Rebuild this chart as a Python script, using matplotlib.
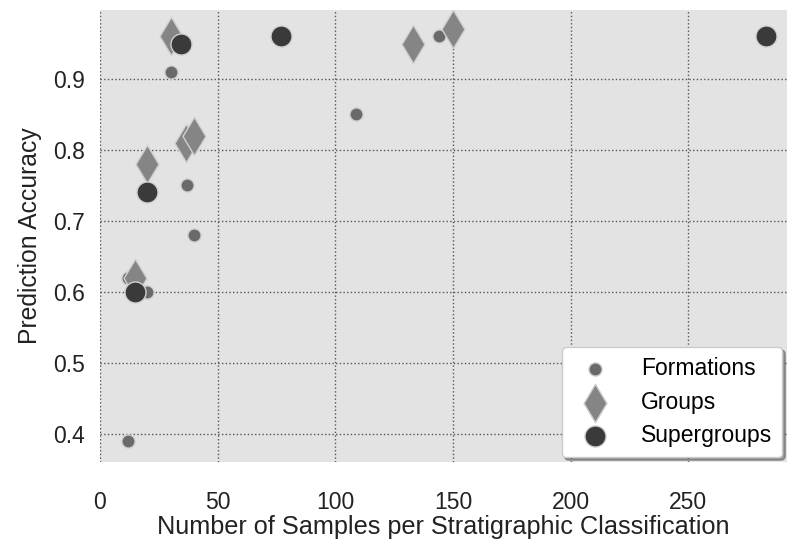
import matplotlib
matplotlib.use("Agg")
import matplotlib.pyplot as plt

# values
form_x = [12, 12, 20, 30, 37, 40, 109, 144]
form_y = [0.39, 0.62, 0.60, 0.91, 0.75, 0.68, 0.85, 0.96]
group_x = [30, 15, 20, 36.5, 40, 133, 150]
group_y = [0.96, 0.62, 0.78, 0.81, 0.82, 0.95, 0.97]
super_x = [15, 20, 34.5, 77, 283]
super_y = [0.60, 0.74, 0.95, 0.96, 0.96]

plt.rcParams["font.family"] = ["Liberation Sans", "DejaVu Sans"]

fig = plt.figure(figsize=(7.87, 5.39), dpi=100)
ax = fig.add_axes([0.127, 0.143, 0.873, 0.838])
ax.set_facecolor("#e3e3e3")

ax.scatter(form_x, form_y, s=90, marker="o", color="#6a6a6a",
           edgecolors="#d0d0d0", linewidths=1, label="Formations", zorder=3)
ax.scatter(group_x, group_y, s=380, marker="d", color="#858585",
           edgecolors="#d0d0d0", linewidths=1, label="Groups", zorder=3)
ax.scatter(super_x, super_y, s=230, marker="o", color="#3a3a3a",
           edgecolors="#d0d0d0", linewidths=1, label="Supergroups", zorder=3)

ax.set_xlim(0, 292)
ax.set_ylim(0.36, 0.997)
ax.set_xticks([0, 50, 100, 150, 200, 250])
ax.set_yticks([0.4, 0.5, 0.6, 0.7, 0.8, 0.9])
ax.grid(True, color="#555555", linestyle=":", linewidth=1)
ax.set_axisbelow(True)
for s in ax.spines.values():
    s.set_visible(False)
ax.tick_params(axis="both", length=0, labelsize=16.5, colors="#222222")
ax.tick_params(axis="x", pad=21)
ax.tick_params(axis="y", pad=11)

ax.set_xlabel("Number of Samples per Stratigraphic Classification",
              fontsize=18.2, color="#222222", labelpad=1)
ax.set_ylabel("Prediction Accuracy", fontsize=17.8, color="#222222",
              labelpad=8)

leg = ax.legend(loc="lower right", fontsize=16.5, frameon=True, shadow=True,
                fancybox=True, borderpad=0.45, labelspacing=0.45,
                handletextpad=1.0, scatterpoints=1, borderaxespad=0.2)
leg.get_frame().set_facecolor("white")
leg.get_frame().set_edgecolor("#cccccc")

fig.savefig("out.png", dpi=100)
